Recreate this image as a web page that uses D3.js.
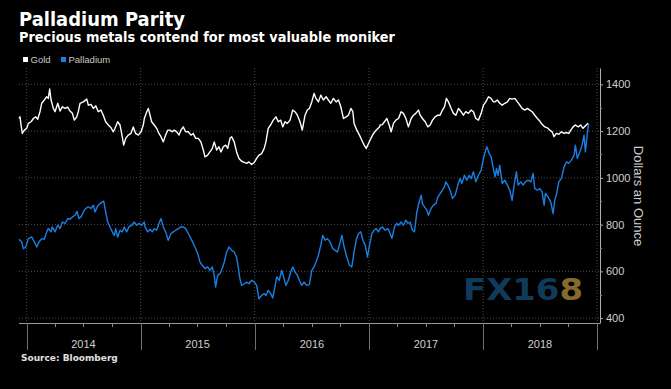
<!DOCTYPE html>
<html>
<head>
<meta charset="utf-8">
<script src="https://cdn.jsdelivr.net/npm/d3@7"></script>
<style>
  html, body { margin: 0; padding: 0; background: #000; }
  svg { display: block; }
</style>
</head>
<body>
<div id="chart"></div>
<script>
// prices in dollars an ounce, dates as decimal years
var goldPoints = [
  [2013.933,1254],[2013.942,1261],[2013.951,1226],[2013.962,1190],[2013.980,1204],[2014.001,1212],
  [2014.015,1233],[2014.039,1240],[2014.059,1254],[2014.080,1261],[2014.097,1251],[2014.117,1283],
  [2014.132,1319],[2014.155,1333],[2014.176,1347],[2014.190,1340],[2014.202,1380],[2014.214,1333],
  [2014.234,1297],[2014.249,1283],[2014.273,1319],[2014.293,1286],[2014.313,1304],[2014.337,1297],
  [2014.360,1303],[2014.380,1286],[2014.401,1276],[2014.418,1247],[2014.439,1261],[2014.453,1283],
  [2014.468,1319],[2014.497,1325],[2014.527,1337],[2014.541,1311],[2014.564,1314],[2014.585,1297],
  [2014.606,1308],[2014.628,1283],[2014.652,1290],[2014.672,1268],[2014.693,1240],[2014.716,1226],
  [2014.740,1214],[2014.760,1197],[2014.775,1212],[2014.798,1240],[2014.819,1226],[2014.833,1190],
  [2014.851,1140],[2014.869,1169],[2014.891,1183],[2014.915,1190],[2014.935,1218],[2014.956,1190],
  [2014.979,1183],[2015.003,1197],[2015.023,1226],[2015.032,1254],[2015.053,1283],[2015.067,1297],
  [2015.082,1268],[2015.096,1240],[2015.119,1226],[2015.140,1212],[2015.160,1190],[2015.178,1176],
  [2015.198,1154],[2015.219,1183],[2015.237,1204],[2015.257,1204],[2015.277,1197],[2015.295,1204],
  [2015.316,1197],[2015.336,1183],[2015.353,1204],[2015.373,1218],[2015.394,1197],[2015.417,1197],
  [2015.441,1183],[2015.461,1190],[2015.482,1169],[2015.505,1169],[2015.528,1154],[2015.549,1119],
  [2015.564,1090],[2015.587,1097],[2015.607,1111],[2015.628,1126],[2015.645,1154],[2015.666,1119],
  [2015.686,1133],[2015.704,1111],[2015.724,1133],[2015.745,1140],[2015.763,1126],[2015.783,1169],
  [2015.798,1176],[2015.820,1154],[2015.841,1111],[2015.862,1083],[2015.885,1071],[2015.908,1066],
  [2015.929,1062],[2015.949,1068],[2015.973,1057],[2015.996,1066],[2016.017,1083],[2016.037,1097],
  [2016.061,1104],[2016.083,1126],[2016.098,1154],[2016.118,1212],[2016.139,1226],[2016.162,1247],
  [2016.186,1261],[2016.206,1240],[2016.227,1247],[2016.245,1218],[2016.265,1240],[2016.285,1233],
  [2016.309,1247],[2016.332,1290],[2016.352,1283],[2016.373,1268],[2016.396,1240],[2016.416,1204],
  [2016.440,1268],[2016.460,1290],[2016.478,1297],[2016.499,1325],[2016.519,1361],[2016.536,1340],
  [2016.557,1325],[2016.578,1354],[2016.600,1333],[2016.624,1347],[2016.644,1333],[2016.665,1319],
  [2016.688,1340],[2016.712,1325],[2016.732,1333],[2016.753,1304],[2016.776,1254],[2016.799,1261],
  [2016.819,1268],[2016.841,1297],[2016.858,1283],[2016.869,1233],[2016.893,1204],[2016.916,1183],
  [2016.937,1161],[2016.957,1140],[2016.975,1126],[2016.995,1147],[2017.016,1169],[2017.039,1190],
  [2017.062,1204],[2017.091,1218],[2017.097,1226],[2017.117,1228],[2017.135,1240],[2017.156,1254],
  [2017.176,1226],[2017.194,1197],[2017.214,1233],[2017.235,1247],[2017.258,1254],[2017.281,1283],
  [2017.301,1276],[2017.323,1254],[2017.345,1218],[2017.369,1254],[2017.389,1268],[2017.410,1276],
  [2017.433,1290],[2017.448,1268],[2017.468,1254],[2017.492,1240],[2017.515,1218],[2017.536,1226],
  [2017.556,1247],[2017.579,1261],[2017.603,1268],[2017.623,1268],[2017.643,1290],[2017.661,1304],
  [2017.678,1340],[2017.696,1325],[2017.720,1297],[2017.740,1276],[2017.761,1268],[2017.784,1297],
  [2017.807,1283],[2017.827,1268],[2017.848,1283],[2017.871,1276],[2017.895,1290],[2017.915,1283],
  [2017.936,1254],[2017.959,1247],[2017.983,1276],[2018.003,1311],[2018.024,1325],[2018.047,1347],
  [2018.070,1340],[2018.090,1325],[2018.103,1325],[2018.125,1333],[2018.146,1319],[2018.167,1311],
  [2018.190,1319],[2018.213,1325],[2018.234,1340],[2018.254,1337],[2018.278,1340],[2018.301,1325],
  [2018.322,1311],[2018.342,1297],[2018.366,1290],[2018.388,1297],[2018.409,1290],[2018.430,1283],
  [2018.453,1268],[2018.476,1254],[2018.497,1243],[2018.517,1229],[2018.541,1218],[2018.564,1214],
  [2018.585,1204],[2018.605,1197],[2018.622,1176],[2018.642,1190],[2018.664,1186],[2018.686,1197],
  [2018.710,1190],[2018.730,1194],[2018.751,1190],[2018.769,1204],[2018.789,1218],[2018.809,1226],
  [2018.833,1218],[2018.856,1226],[2018.876,1212],[2018.897,1223],[2018.920,1233]
];

var palladiumPoints = [
  [2013.933,737],[2013.957,726],[2013.971,697],[2013.992,704],[2014.015,740],[2014.045,747],
  [2014.067,726],[2014.089,704],[2014.109,726],[2014.132,740],[2014.155,737],[2014.176,769],
  [2014.190,783],[2014.214,769],[2014.225,790],[2014.249,769],[2014.273,797],[2014.293,783],
  [2014.313,811],[2014.337,805],[2014.360,826],[2014.380,823],[2014.401,833],[2014.424,840],
  [2014.442,857],[2014.459,826],[2014.477,833],[2014.497,854],[2014.518,869],[2014.541,876],
  [2014.564,869],[2014.585,883],[2014.600,854],[2014.623,880],[2014.643,890],[2014.663,897],
  [2014.676,900],[2014.693,854],[2014.711,811],[2014.731,790],[2014.751,769],[2014.769,754],
  [2014.781,783],[2014.798,747],[2014.819,776],[2014.839,769],[2014.856,790],[2014.877,769],
  [2014.897,790],[2014.921,797],[2014.944,811],[2014.965,797],[2014.985,805],[2015.009,797],
  [2015.032,811],[2015.038,790],[2015.061,769],[2015.082,780],[2015.102,769],[2015.119,783],
  [2015.140,776],[2015.160,805],[2015.178,826],[2015.198,790],[2015.219,769],[2015.242,733],
  [2015.266,762],[2015.286,769],[2015.307,776],[2015.330,783],[2015.353,790],[2015.373,790],
  [2015.394,783],[2015.417,762],[2015.441,740],[2015.461,719],[2015.482,697],[2015.500,676],
  [2015.520,640],[2015.540,626],[2015.564,612],[2015.587,619],[2015.607,604],[2015.628,619],
  [2015.645,583],[2015.657,533],[2015.675,583],[2015.695,590],[2015.715,612],[2015.733,640],
  [2015.754,683],[2015.774,704],[2015.798,690],[2015.820,683],[2015.841,661],[2015.855,619],
  [2015.870,569],[2015.885,540],[2015.908,547],[2015.929,554],[2015.949,547],[2015.973,562],
  [2015.996,554],[2016.017,540],[2016.037,483],[2016.061,497],[2016.083,505],[2016.098,497],
  [2016.118,519],[2016.139,505],[2016.157,486],[2016.177,533],[2016.192,576],[2016.215,562],
  [2016.236,604],[2016.256,569],[2016.273,540],[2016.294,562],[2016.315,597],[2016.332,619],
  [2016.352,597],[2016.373,583],[2016.390,562],[2016.411,540],[2016.431,554],[2016.455,540],
  [2016.478,543],[2016.499,604],[2016.519,619],[2016.536,640],[2016.557,669],[2016.578,712],
  [2016.595,754],[2016.615,733],[2016.635,740],[2016.659,726],[2016.683,697],[2016.703,690],
  [2016.723,683],[2016.741,712],[2016.762,754],[2016.782,704],[2016.805,661],[2016.828,626],
  [2016.849,619],[2016.869,683],[2016.887,733],[2016.907,762],[2016.928,769],[2016.946,733],
  [2016.966,712],[2016.986,661],[2017.004,712],[2017.025,762],[2017.045,776],[2017.062,783],
  [2017.082,769],[2017.097,783],[2017.117,790],[2017.141,776],[2017.165,783],[2017.185,762],
  [2017.200,740],[2017.223,790],[2017.244,805],[2017.258,797],[2017.281,811],[2017.301,797],
  [2017.323,819],[2017.340,805],[2017.360,811],[2017.380,776],[2017.398,769],[2017.419,854],
  [2017.439,897],[2017.457,926],[2017.468,890],[2017.486,876],[2017.507,862],[2017.521,840],
  [2017.544,869],[2017.564,883],[2017.586,890],[2017.603,918],[2017.623,933],[2017.643,947],
  [2017.661,961],[2017.673,983],[2017.691,969],[2017.711,947],[2017.731,912],[2017.755,926],
  [2017.778,969],[2017.798,997],[2017.813,976],[2017.836,1011],[2017.857,990],[2017.877,1011],
  [2017.895,997],[2017.915,1026],[2017.936,983],[2017.959,1011],[2017.983,1033],[2018.003,1083],
  [2018.018,1111],[2018.032,1133],[2018.053,1104],[2018.070,1090],[2018.090,1040],[2018.105,1004],
  [2018.117,1040],[2018.131,1011],[2018.146,1054],[2018.167,976],[2018.190,990],[2018.213,969],
  [2018.234,947],[2018.254,904],[2018.272,969],[2018.292,1026],[2018.307,969],[2018.330,983],
  [2018.351,969],[2018.371,983],[2018.394,990],[2018.418,983],[2018.438,1019],[2018.453,954],
  [2018.476,947],[2018.497,954],[2018.517,940],[2018.535,883],[2018.546,933],[2018.570,918],
  [2018.593,897],[2018.614,847],[2018.628,904],[2018.642,926],[2018.664,983],[2018.686,997],
  [2018.710,1047],[2018.730,1068],[2018.751,1062],[2018.774,1076],[2018.798,1097],[2018.809,1140],
  [2018.826,1083],[2018.848,1111],[2018.868,1140],[2018.885,1183],[2018.897,1111],[2018.914,1190],
  [2018.926,1233]
];

var yTicks = [400, 600, 800, 1000, 1200, 1400];
var yMinorTicks = [500, 700, 900, 1100, 1300];
var years = [2014, 2015, 2016, 2017, 2018];
var seriesNames = ["Gold", "Palladium"];
var seriesColors = ["#ffffff", "#1a7fe3"];

var W = 671, H = 389;
var margin = {top: 68, right: 71, bottom: 66, left: 19};
var width = W - margin.left - margin.right;
var height = H - margin.top - margin.bottom;

function yearToDate(t) {
  var y = Math.floor(t);
  var start = new Date(y, 0, 1), end = new Date(y + 1, 0, 1);
  return new Date(+start + (t - y) * (end - start));
}

var svg = d3.select('#chart')
  .append('svg')
  .attr('width', W)
  .attr('height', H)
  .style('background', '#000');

var x = d3.scaleTime()
  .domain([yearToDate(2013.933), yearToDate(2019.025)])
  .range([0, width]);
var y = d3.scaleLinear()
  .domain([379, 1470])
  .range([height, 0]);

var g = svg.append('g').attr('transform', 'translate(' + margin.left + ',' + margin.top + ')');

// grid
var yearStarts = years.concat([2019]).map(function(d) { return new Date(d, 0, 1); });
g.selectAll('.hgrid')
  .data(yTicks)
  .enter().append('line')
  .attr('x1', 0).attr('x2', width)
  .attr('y1', function(d) { return y(d); })
  .attr('y2', function(d) { return y(d); })
  .attr('stroke', '#4a4a4a')
  .attr('stroke-width', 1)
  .attr('stroke-dasharray', '1,2');
g.selectAll('.vgrid')
  .data(yearStarts)
  .enter().append('line')
  .attr('x1', function(d) { return x(d); })
  .attr('x2', function(d) { return x(d); })
  .attr('y1', 0).attr('y2', height)
  .attr('stroke', '#4a4a4a')
  .attr('stroke-width', 1)
  .attr('stroke-dasharray', '1,2');

// x axis: baseline, year dividers, quarter ticks, labels
g.append('line')
  .attr('x1', 0).attr('x2', width)
  .attr('y1', height + 0.5).attr('y2', height + 0.5)
  .attr('stroke', '#9a9a9a');
g.selectAll('.yeartick')
  .data(yearStarts)
  .enter().append('line')
  .attr('x1', function(d) { return Math.round(x(d)) + 0.5; })
  .attr('x2', function(d) { return Math.round(x(d)) + 0.5; })
  .attr('y1', height).attr('y2', height + 27)
  .attr('stroke', '#6e6e6e');
var quarters = d3.timeMonth.every(3).range(new Date(2014, 0, 1), new Date(2019, 0, 1))
  .filter(function(d) { return d.getMonth() != 0; });
g.selectAll('.qtick')
  .data(quarters)
  .enter().append('line')
  .attr('x1', function(d) { return Math.round(x(d)) + 0.5; })
  .attr('x2', function(d) { return Math.round(x(d)) + 0.5; })
  .attr('y1', height).attr('y2', height + 4)
  .attr('stroke', '#8a8a8a');
g.selectAll('.yearlabel')
  .data(years)
  .enter().append('text')
  .attr('x', function(d) { return x(new Date(d, 6, 2)); })
  .attr('y', height + 24.5)
  .attr('text-anchor', 'middle')
  .attr('fill', '#cfcfcf')
  .style('font-family', '"Liberation Sans", Arial, sans-serif')
  .style('font-size', '11px')
  .text(function(d) { return d; });

// y axis on the right
var yAxis = g.append('g')
  .attr('transform', 'translate(' + width + ',0)')
  .call(d3.axisRight(y).tickValues(yTicks).tickFormat(d3.format('d'))
    .tickSize(3).tickSizeOuter(0).tickPadding(3));
yAxis.select('.domain').attr('stroke', '#b0b0b0');
yAxis.selectAll('.tick line').attr('stroke', '#b0b0b0');
yAxis.selectAll('.tick text')
  .attr('fill', '#cfcfcf')
  .style('font-family', '"Liberation Sans", Arial, sans-serif')
  .style('font-size', '11px');
g.selectAll('.yminor')
  .data(yMinorTicks)
  .enter().append('line')
  .attr('x1', width).attr('x2', width + 2)
  .attr('y1', function(d) { return Math.round(y(d)) + 0.5; })
  .attr('y2', function(d) { return Math.round(y(d)) + 0.5; })
  .attr('stroke', '#8a8a8a');
svg.append('text')
  .attr('transform', 'translate(634,196) rotate(90)')
  .attr('text-anchor', 'middle')
  .attr('fill', '#cfcfcf')
  .style('font-family', '"Liberation Sans", Arial, sans-serif')
  .style('font-size', '13px')
  .text('Dollars an Ounce');

// watermark
var wm = svg.append('text')
  .attr('x', 463)
  .attr('y', 299.5)
  .attr('textLength', 120)
  .attr('lengthAdjust', 'spacingAndGlyphs')
  .style('font-family', '"DejaVu Sans", sans-serif')
  .style('font-weight', 'bold')
  .style('font-size', '30px');
wm.append('tspan').attr('fill', '#0f3a5a').text('FX16');
wm.append('tspan').attr('fill', '#86692c').text('8');

// lines
var line = d3.line()
  .x(function(d) { return x(yearToDate(d[0])); })
  .y(function(d) { return y(d[1]); });
g.append('path')
  .datum(goldPoints)
  .attr('fill', 'none')
  .attr('stroke', seriesColors[0])
  .attr('stroke-width', 1.4)
  .attr('stroke-linejoin', 'round')
  .attr('d', line);
g.append('path')
  .datum(palladiumPoints)
  .attr('fill', 'none')
  .attr('stroke', seriesColors[1])
  .attr('stroke-width', 1.4)
  .attr('stroke-linejoin', 'round')
  .attr('d', line);

// titles
svg.append('text')
  .attr('x', 19).attr('y', 26)
  .attr('textLength', 166)
  .attr('lengthAdjust', 'spacingAndGlyphs')
  .attr('fill', '#fff')
  .style('font-family', '"DejaVu Sans", sans-serif')
  .style('font-weight', 'bold')
  .style('font-size', '19px')
  .text('Palladium Parity');
svg.append('text')
  .attr('x', 19).attr('y', 42)
  .attr('textLength', 376)
  .attr('lengthAdjust', 'spacingAndGlyphs')
  .attr('fill', '#fff')
  .style('font-family', '"DejaVu Sans", sans-serif')
  .style('font-weight', 'bold')
  .style('font-size', '14.5px')
  .text('Precious metals contend for most valuable moniker');

// legend
var legendX = [23, 61];
var legend = svg.selectAll('.legend')
  .data(seriesNames)
  .enter().append('g')
  .attr('transform', function(d, i) { return 'translate(' + legendX[i] + ',57)'; });
legend.append('rect')
  .attr('width', 5).attr('height', 5)
  .attr('fill', function(d, i) { return seriesColors[i]; });
legend.append('text')
  .attr('x', 7.5).attr('y', 5.5)
  .attr('fill', '#c8c8c8')
  .style('font-family', '"Liberation Sans", Arial, sans-serif')
  .style('font-size', '9.5px')
  .text(function(d) { return d; });

// source
svg.append('text')
  .attr('x', 21).attr('y', 361)
  .attr('fill', '#e0e0e0')
  .style('font-family', '"DejaVu Sans", sans-serif')
  .style('font-weight', 'bold')
  .style('font-size', '9px')
  .text('Source: Bloomberg');
</script>
</body>
</html>
